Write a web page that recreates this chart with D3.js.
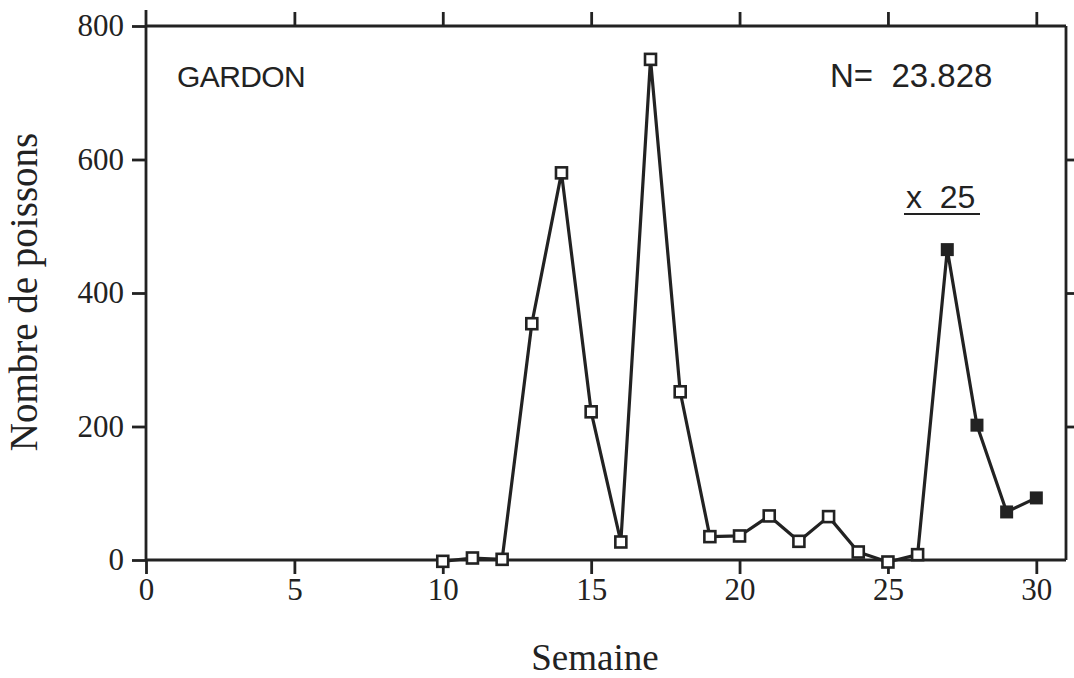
<!DOCTYPE html>
<html><head><meta charset="utf-8">
<script src="https://cdn.jsdelivr.net/npm/d3@7"></script>
<style>body{margin:0;background:#fff}</style>
</head><body>
<svg id="c" width="1074" height="678"></svg>
<script>
const weeksOpen = [10,11,12,13,14,15,16,17,18,19,20,21,22,23,24,25,26];
const valuesOpen = [-2,3,1,354,580,222,27,750,252,35,36,66,28,65,12,-3,8];
const weeksFilled = [27,28,29,30];
const valuesFilled = [465,202,72,93];
const xTicks = [0,5,10,15,20,25,30];
const yTicks = [0,200,400,600,800];

const svg = d3.select("#c");
const ink = "#222";
const x = d3.scaleLinear().domain([0,31]).range([146,1066]);
const y = d3.scaleLinear().domain([0,800]).range([560,26]);
const serif = "'Liberation Serif','Times New Roman',serif";
const sans = "'Liberation Sans',Arial,sans-serif";

// bottom axis
const gx = svg.append("g").attr("transform",`translate(0,${y(0)})`)
  .call(d3.axisBottom(x).tickValues(xTicks).tickSize(14).tickPadding(4).tickFormat(d3.format("d")));
gx.select(".domain").remove();
gx.selectAll("line").attr("stroke",ink).attr("stroke-width",2.8);
gx.selectAll("text").attr("font-family",serif).attr("font-size",31).attr("fill",ink);

// top axis
const gt = svg.append("g").attr("transform",`translate(0,${y(800)})`)
  .call(d3.axisTop(x).tickValues(xTicks.filter(d=>d>0)).tickSize(14).tickFormat(""));
gt.select(".domain").remove();
gt.selectAll("line").attr("stroke",ink).attr("stroke-width",2.8);

// left axis
const gy = svg.append("g").attr("transform",`translate(${x(0)},0)`)
  .call(d3.axisLeft(y).tickValues(yTicks).tickSize(14).tickPadding(8).tickFormat(d3.format("d")));
gy.select(".domain").remove();
gy.selectAll("line").attr("stroke",ink).attr("stroke-width",2.8);
gy.selectAll("text").attr("font-family",serif).attr("font-size",31).attr("fill",ink);

// right axis
const gr = svg.append("g").attr("transform",`translate(${x(31)},0)`)
  .call(d3.axisRight(y).tickValues([200,400,600]).tickSize(12).tickFormat(""));
gr.select(".domain").remove();
gr.selectAll("line").attr("stroke",ink).attr("stroke-width",2.8);

// frame lines
const frame = svg.append("g").attr("stroke",ink).attr("stroke-width",2.8).attr("fill","none");
frame.append("line").attr("x1",x(0)).attr("x2",x(0)).attr("y1",y(800)-16).attr("y2",y(0));
frame.append("line").attr("x1",x(0)).attr("x2",x(31)).attr("y1",y(0)).attr("y2",y(0));
frame.append("line").attr("x1",x(0)).attr("x2",x(31)).attr("y1",y(800)).attr("y2",y(800));
frame.append("line").attr("x1",x(31)).attr("x2",x(31)).attr("y1",y(800)).attr("y2",y(0));

// data line
const all = weeksOpen.map((w,i)=>[w,valuesOpen[i]]).concat(weeksFilled.map((w,i)=>[w,valuesFilled[i]]));
svg.append("path").datum(all)
  .attr("d",d3.line().x(d=>x(d[0])).y(d=>y(d[1])))
  .attr("fill","none").attr("stroke",ink).attr("stroke-width",3.2).attr("stroke-linejoin","round");

// open markers
const so = 11;
svg.append("g").selectAll("rect").data(weeksOpen.map((w,i)=>[w,valuesOpen[i]])).join("rect")
  .attr("x",d=>x(d[0])-so/2).attr("y",d=>y(d[1])-so/2).attr("width",so).attr("height",so)
  .attr("fill","#fff").attr("stroke",ink).attr("stroke-width",2.6);
// filled markers
const sf = 13;
svg.append("g").selectAll("rect").data(weeksFilled.map((w,i)=>[w,valuesFilled[i]])).join("rect")
  .attr("x",d=>x(d[0])-sf/2).attr("y",d=>y(d[1])-sf/2).attr("width",sf).attr("height",sf)
  .attr("fill",ink);

// annotations
svg.append("text").attr("x",177).attr("y",87).attr("font-family",sans).attr("font-size",30)
  .attr("letter-spacing",-0.6).attr("fill",ink).text("GARDON");
svg.append("text").attr("x",830).attr("y",87).attr("font-family",sans).attr("font-size",33)
  .attr("fill",ink).style("white-space","pre").text("N=  23.828");
svg.append("text").attr("x",906).attr("y",208).attr("font-family",sans).attr("font-size",32)
  .attr("fill",ink).style("white-space","pre").text("x  25");
svg.append("line").attr("x1",904).attr("x2",980).attr("y1",214).attr("y2",214)
  .attr("stroke",ink).attr("stroke-width",2.2);

// axis titles
svg.append("text").attr("x",595).attr("y",670).attr("text-anchor","middle")
  .attr("font-family",serif).attr("font-size",37).attr("fill",ink).text("Semaine");
svg.append("text").attr("transform","translate(37,292) rotate(-90)").attr("text-anchor","middle")
  .attr("font-family",serif).attr("font-size",39).attr("fill",ink).text("Nombre de poissons");
</script>
</body></html>
